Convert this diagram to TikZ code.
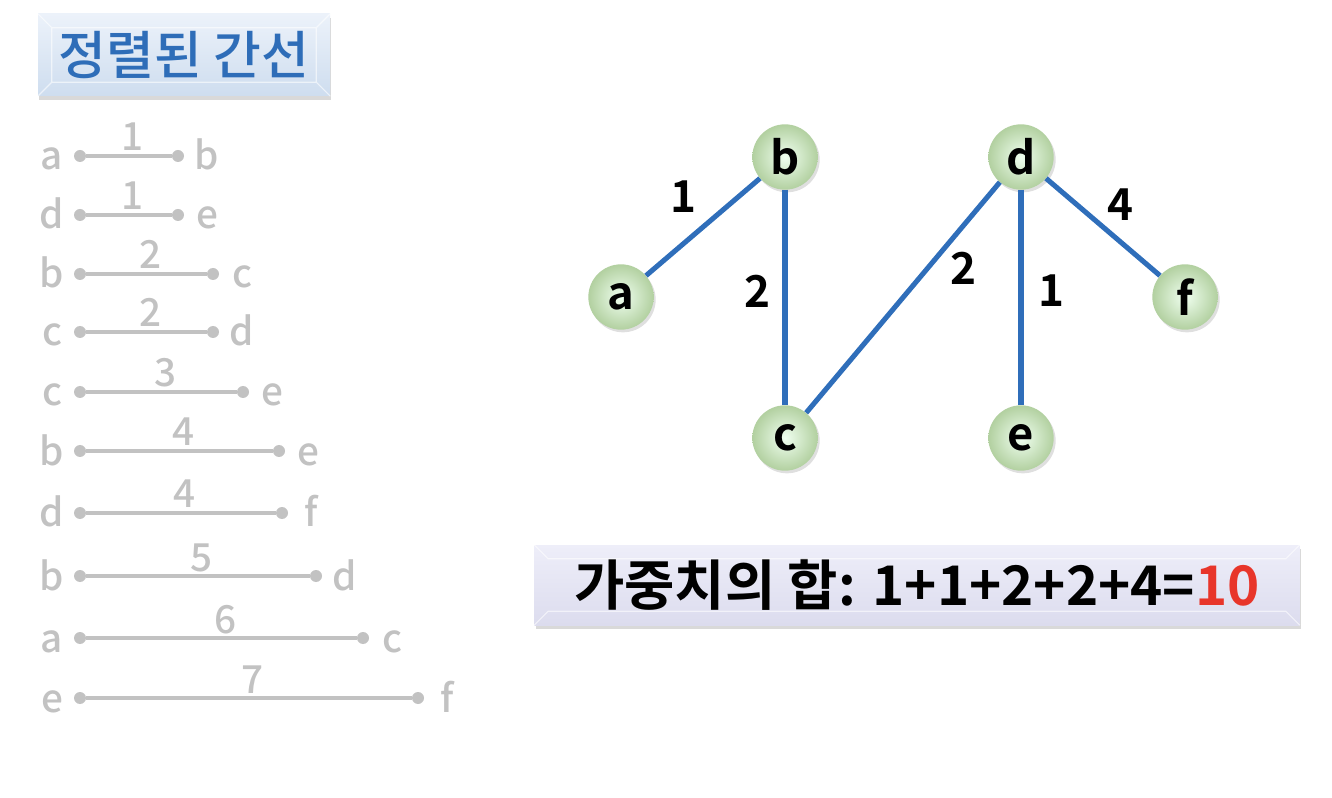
\documentclass[tikz,border=0pt]{standalone}
\usepackage{fontspec}
\setmainfont{Noto Sans CJK KR}[BoldFont=* Bold]
\newfontfamily\medfont{Noto Sans CJK KR}[UprightFont=* Medium]
\usetikzlibrary{shadows}
\definecolor{edgeblue}{HTML}{2F6EBA}
\definecolor{titleblue}{HTML}{2E6DB8}
\definecolor{listgray}{HTML}{C2C2C2}
\definecolor{sumred}{HTML}{E8352A}
\begin{document}
\begin{tikzpicture}[x=0.75pt,y=-0.75pt,
    vtx/.style={circle,minimum size=49pt,inner sep=0pt,shading=radial,
      inner color=green!6!white,outer color={rgb,255:red,178;green,208;blue,160},
      drop shadow={shadow xshift=1.5pt,shadow yshift=-2pt,opacity=.25},
      font=\bfseries\fontsize{34}{34}\selectfont},
    wt/.style={font=\bfseries\fontsize{33}{33}\selectfont},
    ed/.style={edgeblue,line width=3.8pt},
    lst/.style={listgray,font=\medfont\fontsize{29}{29}\selectfont,inner sep=0pt},
    pt/.style={circle,fill=listgray,inner sep=0pt,minimum size=9pt},
    banner/.style={inner sep=0pt,drop shadow={shadow xshift=1pt,shadow yshift=-3pt,opacity=.3}},
    bevel/.style={white,opacity=.6,line width=.8pt}]
    \useasboundingbox (0,0) rectangle (1332,798);
    % title
    \node[banner,minimum width=219pt,minimum height=61.5pt,top color={rgb,255:red,236;green,242;blue,250},bottom color={rgb,255:red,206;green,221;blue,239},
      text=titleblue,font=\medfont\fontsize{39}{39}\selectfont] (title) at (184,55) {정렬된 간선};
    \draw[bevel] (title.north west) -- ++(14,14) -- ([xshift=-10.5pt,yshift=-10.5pt]title.north east) -- (title.north east)
      (title.south west) -- ++(14,-14) -- ([xshift=-10.5pt,yshift=10.5pt]title.south east) -- (title.south east)
      ([xshift=10.5pt,yshift=-10.5pt]title.north west) -- ([xshift=10.5pt,yshift=10.5pt]title.south west)
      ([xshift=-10.5pt,yshift=-10.5pt]title.north east) -- ([xshift=-10.5pt,yshift=10.5pt]title.south east);
    % sorted edge list
    \foreach[count=\i] \u/\v/\w/\y/\x in {a/b/1/156/178,d/e/1/215/178,b/c/2/274/213,c/d/2/332/213,c/e/3/392/243,
        b/e/4/451/279,d/f/4/513/282,b/d/5/576/316,a/c/6/638/363,e/f/7/698/418} {
        \node[pt] (s\i) at (80,\y) {};
        \node[pt] (t\i) at (\x,\y) {};
        \draw[listgray,line width=2.4pt] (s\i) -- (t\i);
        \node[lst,anchor=base] (p\i) at (52,\y+14) {\u};
        \node[lst,anchor=base] (q\i) at (\x+29,\y+14) {\v};
        \node[lst,anchor=base] (w\i) at ({(80+\x)/2+4},\y-5) {\w};
    }
    % graph
    \node[vtx] (a) at (621,297) {a};
    \node[vtx] (b) at (785,157) {b};
    \node[vtx] (c) at (785,438) {c};
    \node[vtx] (d) at (1021,157) {d};
    \node[vtx] (e) at (1021,438) {e};
    \node[vtx] (f) at (1185,297) {f};
    \draw[ed] (a) -- (b);
    \draw[ed] (b) -- (c);
    \draw[ed] (c) -- (d);
    \draw[ed] (d) -- (e);
    \draw[ed] (d) -- (f);
    \node[wt] (ab) at (683,197) {1};
    \node[wt] (bc) at (757,291) {2};
    \node[wt] (cd) at (963,268) {2};
    \node[wt] (de) at (1051,291) {1};
    \node[wt] (df) at (1120,205) {4};
    % sum
    \node[banner,minimum width=574pt,minimum height=60pt,top color={rgb,255:red,238;green,238;blue,249},bottom color={rgb,255:red,220;green,220;blue,238},
      font=\bfseries\fontsize{41}{41}\selectfont] (sum) at (917,585) {가중치의 합: 1+1+2+2+4=\textcolor{sumred}{10}};
    \draw[bevel] (sum.north west) -- ++(14,14) -- ([xshift=-10.5pt,yshift=-10.5pt]sum.north east) -- (sum.north east)
      (sum.south west) -- ++(14,-14) -- ([xshift=-10.5pt,yshift=10.5pt]sum.south east) -- (sum.south east);
\end{tikzpicture}
\end{document}
